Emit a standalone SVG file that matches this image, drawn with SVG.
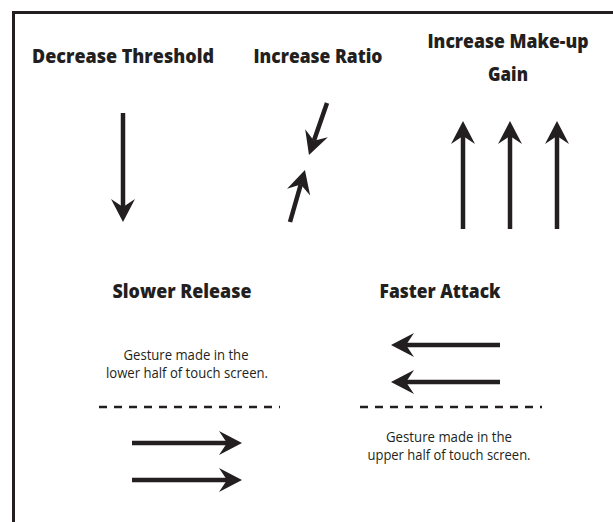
<svg xmlns="http://www.w3.org/2000/svg" width="613" height="522" viewBox="0 0 613 522">
<style>
.title{font-family:"Open Sans","Liberation Sans",sans-serif;font-weight:800;font-size:20px;fill:#231f20;text-anchor:middle}
.note{font-family:"Open Sans","Liberation Sans",sans-serif;font-size:14px;fill:#231f20;text-anchor:middle}
.shaft{stroke:#231f20;stroke-width:4.5;fill:none;marker-end:url(#head)}
.dash{stroke:#231f20;stroke-width:2.5;stroke-dasharray:8 7;fill:none}
</style>
<defs>
<marker id="head" markerUnits="userSpaceOnUse" viewBox="-10 -13 27 26" markerWidth="27" markerHeight="26" refX="0" refY="0" orient="auto" overflow="visible">
<path d="M15,0 L-8,-12 L0,0 L-8,12 Z" fill="#231f20"/>
</marker>
</defs>
<rect width="613" height="522" fill="#ffffff"/>
<g id="frame" fill="none" stroke="#231f20" stroke-width="3">
<path d="M13.5,522 V12.5 H613"/>
</g>
<g id="decrease-threshold">
<text class="title" x="123" y="63" textLength="182" lengthAdjust="spacingAndGlyphs">Decrease Threshold</text>
</g>
<g id="increase-ratio">
<text class="title" x="318" y="63" textLength="129" lengthAdjust="spacingAndGlyphs">Increase Ratio</text>
</g>
<g id="increase-makeup-gain">
<text class="title" x="508" y="48" textLength="161" lengthAdjust="spacingAndGlyphs">Increase Make-up</text>
<text class="title" x="508" y="81" textLength="40" lengthAdjust="spacingAndGlyphs">Gain</text>
</g>
<g id="slower-release">
<text class="title" x="182" y="298" textLength="139" lengthAdjust="spacingAndGlyphs">Slower Release</text>
<text class="note" x="186" y="360" textLength="125" lengthAdjust="spacingAndGlyphs">Gesture made in the</text>
<text class="note" x="187" y="378" textLength="162" lengthAdjust="spacingAndGlyphs">lower half of touch screen.</text>
</g>
<g id="faster-attack">
<text class="title" x="440" y="298" textLength="121" lengthAdjust="spacingAndGlyphs">Faster Attack</text>
<text class="note" x="449" y="442" textLength="126" lengthAdjust="spacingAndGlyphs">Gesture made in the</text>
<text class="note" x="449" y="460" textLength="163" lengthAdjust="spacingAndGlyphs">upper half of touch screen.</text>
</g>
<g id="connectors">
<line class="shaft" x1="123" y1="113" x2="123" y2="207"/>
<line class="shaft" x1="327" y1="103" x2="313.9" y2="140.8"/>
<line class="shaft" x1="290" y1="222" x2="300.8" y2="184.4"/>
<line class="shaft" x1="463" y1="229" x2="463" y2="136"/>
<line class="shaft" x1="510" y1="229" x2="510" y2="136"/>
<line class="shaft" x1="557" y1="229" x2="557" y2="136"/>
<line class="shaft" x1="132" y1="443" x2="227" y2="443"/>
<line class="shaft" x1="132" y1="480" x2="227" y2="480"/>
<line class="shaft" x1="500" y1="345" x2="406" y2="345"/>
<line class="shaft" x1="500" y1="382" x2="406" y2="382"/>
<line class="dash" x1="99" y1="407" x2="280" y2="407"/>
<line class="dash" x1="360" y1="407" x2="542" y2="407"/>
</g>
</svg>
